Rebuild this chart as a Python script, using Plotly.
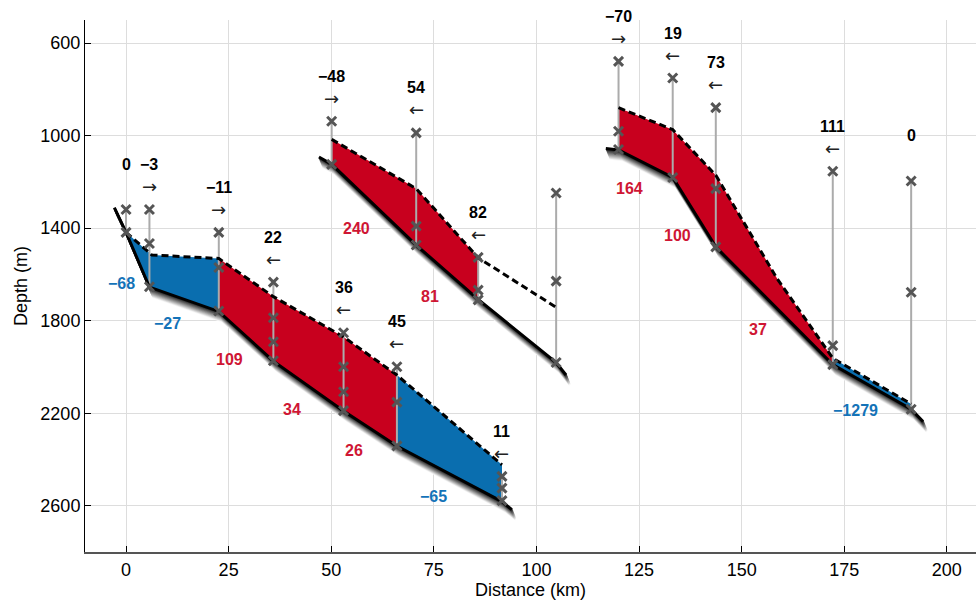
import plotly.graph_objects as go

# ---- wells: position along profile, label, flow direction, marker depths ----
well_km = [0.0, 5.7, 22.6, 35.9, 53.0, 66.0, 91.6,
           50.1, 70.7, 85.8, 104.8,
           120.0, 133.2, 143.7, 172.2, 191.3]
well_label = ["0", "−3", "−11", "22", "36", "45", "11",
              "−48", "54", "82", "",
              "−70", "19", "73", "111", "0"]
well_arrow = ["", "→", "→", "←", "←", "←", "←",
              "→", "←", "←", "",
              "→", "←", "←", "←", ""]
well_depths = [
    [1319, 1418],
    [1319, 1466, 1653],
    [1418, 1570, 1758],
    [1633, 1787, 1891, 1973],
    [1852, 1999, 2107, 2189],
    [1999, 2152, 2341],
    [2473, 2524, 2578],
    [938, 1124],
    [988, 1391, 1473],
    [1526, 1668, 1710],
    [1248, 1629, 1981],
    [679, 981, 1060],
    [751, 1181],
    [879, 1229, 1481],
    [1154, 1908, 1990],
    [1196, 1677, 2183],
]

# ---- profile 1 ----
s1_bot_km = [-2.85, 0.0, 5.7, 22.6, 35.9, 53.0, 66.0, 91.6, 94.0]
s1_bot_d = [1311, 1418, 1655, 1760, 1975, 2190, 2342, 2582, 2617]
s1_top_km = [0.0, 6.3, 22.6, 35.9, 53.0, 66.0, 91.6]
s1_top_d = [1418, 1516, 1531, 1696, 1870, 2035, 2423]
s1_bands = [(0.0, 22.6, "blue"), (22.6, 66.0, "red"), (66.0, 91.6, "blue")]

# ---- profile 2 ----
s2_bot_km = [47.0, 50.1, 70.7, 85.8, 104.8, 107.2]
s2_bot_d = [1092, 1124, 1473, 1708, 1981, 2035]
s2_top_km = [50.1, 70.7, 85.8, 104.6]
s2_top_d = [1016, 1229, 1528, 1740]
s2_bands = [(50.1, 85.8, "red")]

# ---- profile 3 ----
s3_bot_km = [116.9, 120.0, 133.2, 143.7, 172.2, 191.3, 194.2]
s3_bot_d = [1056, 1062, 1181, 1481, 1990, 2183, 2236]
s3_top_km = [120.0, 133.2, 143.7, 158.6, 172.2, 191.3]
s3_top_d = [879, 974, 1171, 1617, 1962, 2160]
s3_bands = [(120.0, 172.2, "red"), (172.2, 191.3, "blue")]

# ---- interval values ----
iv_label = ["−68", "−27", "109", "34", "26", "−65", "240", "81", "164", "100", "37", "−1279"]
iv_km = [-1.2, 10.1, 25.3, 40.5, 55.6, 74.9, 56.2, 74.1, 122.6, 134.4, 154.1, 177.7]
iv_d = [1639, 1811, 1967, 2186, 2363, 2560, 1401, 1696, 1229, 1430, 1836, 2189]

RED = "#C8001E"
BLUE = "#0A6EAF"
RED_TXT = "#CF1634"
BLUE_TXT = "#1473B8"
FILL = {"red": RED, "blue": BLUE}
FONT = "Liberation Sans, Arial, sans-serif"
ARROW_FONT = "DejaVu Sans, sans-serif"

X_RANGE = [-10, 207.1]
Y_RANGE = [2800, 500]
PLOT_W, PLOT_H = 891, 532
KM_PER_PX = (X_RANGE[1] - X_RANGE[0]) / PLOT_W
M_PER_PX = (Y_RANGE[0] - Y_RANGE[1]) / PLOT_H

profiles = [
    (s1_bot_km, s1_bot_d, s1_top_km, s1_top_d, s1_bands),
    (s2_bot_km, s2_bot_d, s2_top_km, s2_top_d, s2_bands),
    (s3_bot_km, s3_bot_d, s3_top_km, s3_top_d, s3_bands),
]

fig = go.Figure()


def add_line(x, y, color, width, dash="solid"):
    fig.add_trace(go.Scatter(x=x, y=y, mode="lines", hoverinfo="skip",
                             line=dict(color=color, width=width, dash=dash),
                             showlegend=False))


# soft drop shadow beneath each base line
N_SH = 10
for bot_km, bot_d, _, _, _ in profiles:
    for k in range(N_SH, 0, -1):
        g = int(50 + (248 - 50) * (k - 1) / (N_SH - 1))
        add_line([v + k * 0.4 * KM_PER_PX for v in bot_km],
                 [v + k * 1.0 * M_PER_PX for v in bot_d],
                 f"rgb({g},{g},{g})", 2.4)


def sel(xs, ys, a, b):
    pts = [(x, y) for x, y in zip(xs, ys) if a - 1e-6 <= x <= b + 1e-6]
    return [p[0] for p in pts], [p[1] for p in pts]


# coloured bands between top surface and base
for bot_km, bot_d, top_km, top_d, bands in profiles:
    for a, b, c in bands:
        tx, ty = sel(top_km, top_d, a, b)
        bx, by = sel(bot_km, bot_d, a, b)
        px = tx + bx[::-1] + [tx[0]]
        py = ty + by[::-1] + [ty[0]]
        fig.add_trace(go.Scatter(x=px, y=py, mode="lines", fill="toself",
                                 fillcolor=FILL[c], line=dict(width=0, color=FILL[c]),
                                 hoverinfo="skip", showlegend=False))

# well sticks
for km, ds in zip(well_km, well_depths):
    add_line([km, km], [min(ds), max(ds)], "#ABABAB", 2)

# base lines and dashed top surfaces
for bot_km, bot_d, top_km, top_d, _ in profiles:
    add_line(bot_km, bot_d, "#000000", 3)
    add_line(top_km, top_d, "#000000", 3, dash="7px,4px")

# well markers
mx, my = [], []
for km, ds in zip(well_km, well_depths):
    mx += [km] * len(ds)
    my += ds
fig.add_trace(go.Scatter(x=mx, y=my, mode="markers", hoverinfo="skip",
                         marker=dict(symbol="x-thin", size=9,
                                     line=dict(width=3, color="#555555")),
                         showlegend=False))

annotations = []
for km, ds, lab, arr in zip(well_km, well_depths, well_label, well_arrow):
    top = min(ds)
    if lab:
        annotations.append(dict(x=km, y=top, text=f"<b>{lab}</b>", showarrow=False,
                                yshift=45, font=dict(family=FONT, size=16, color="#000")))
    if arr:
        annotations.append(dict(x=km, y=top, text=arr, showarrow=False,
                                yshift=23, font=dict(family=ARROW_FONT, size=18, color="#222")))

for lab, km, d in zip(iv_label, iv_km, iv_d):
    col = BLUE_TXT if lab.startswith("−") else RED_TXT
    annotations.append(dict(x=km, y=d, text=f"<b>{lab}</b>", showarrow=False,
                            font=dict(family=FONT, size=16, color=col)))

fig.update_layout(
    width=976, height=604,
    margin=dict(l=85, r=0, t=20, b=52),
    paper_bgcolor="white", plot_bgcolor="white",
    font=dict(family=FONT, size=18, color="#000"),
    annotations=annotations,
    xaxis=dict(range=X_RANGE, tickvals=list(range(0, 201, 25)),
               showgrid=True, gridcolor="#DDDDDD", gridwidth=1,
               zeroline=False, showline=True, linecolor="#555555", linewidth=2,
               ticks="inside", ticklen=6, tickcolor="#000", tickwidth=1,
               tickfont=dict(size=18),
               title=dict(text="Distance (km)", font=dict(size=18), standoff=2)),
    yaxis=dict(range=Y_RANGE, tickvals=list(range(600, 2601, 400)),
               showgrid=True, gridcolor="#DDDDDD", gridwidth=1,
               zeroline=False, showline=True, linecolor="#000", linewidth=1,
               ticks="inside", ticklen=6, tickcolor="#000", tickwidth=1,
               tickfont=dict(size=18),
               title=dict(text="Depth (m)", font=dict(size=18), standoff=8)),
)

fig.write_html("out.html")
